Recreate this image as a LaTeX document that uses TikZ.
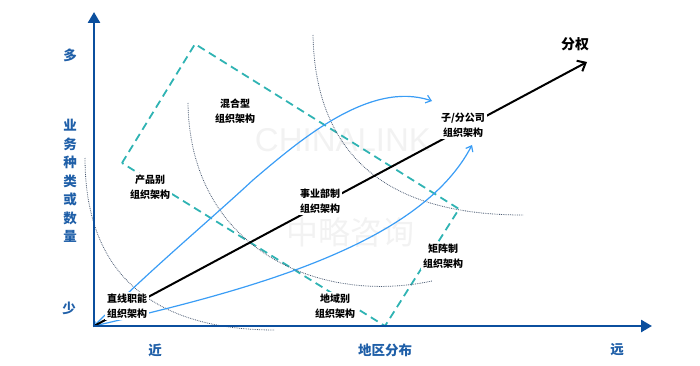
\documentclass[tikz,border=0pt]{standalone}
\usepackage{fontspec}
\setmainfont{Noto Sans CJK SC}
\newfontfamily\latinsans{Liberation Sans}
\usetikzlibrary{arrows.meta}
\definecolor{axisblue}{HTML}{0B4F9E}
\definecolor{txtblue}{HTML}{1F5FA8}
\definecolor{dashteal}{HTML}{2FB3B3}
\definecolor{curveblue}{HTML}{3A9DF5}
\definecolor{arcgray}{HTML}{4A5A72}
\begin{document}
\begin{tikzpicture}[x=1pt,y=-1pt,
  lbl/.style={font=\fontsize{10}{15}\selectfont\bfseries, align=center, fill=white, inner sep=2pt},
  axlbl/.style={font=\fontsize{13.5}{13.5}\selectfont\bfseries, text=txtblue, inner sep=0pt},
  axisline/.style={draw=axisblue, line width=2.6pt, -{Triangle[length=11pt,width=12pt]}},
  frame/.style={draw=dashteal, line width=1.8pt, dash pattern=on 8pt off 5pt},
  arcline/.style={draw=arcgray, line width=0.8pt, dash pattern=on 0.8pt off 1pt},
  flow/.style={draw=curveblue, line width=1.2pt, -{Straight Barb[length=5pt,width=8pt]}},
  mainline/.style={draw=black, line width=2pt, -{Straight Barb[length=7pt,width=12pt]}},
  wm/.style={text=black!5, inner sep=0pt}]
\useasboundingbox (0,0) rectangle (700,366);

% watermark
\node[wm, font=\latinsans\fontsize{33}{33}\selectfont] (wm1) at (343,140) {CHINALINK};
\node[wm, font=\fontsize{32}{32}\selectfont] (wm2) at (350,232) {中略咨询};

% coordinates
\coordinate (O) at (94,326);
\coordinate (Ob) at (94,327.3);
\coordinate (Ol) at (92.7,326);
\coordinate (Ytop) at (94,12);
\coordinate (Xend) at (652,326);
\coordinate (F1) at (122,163);
\coordinate (F2) at (195,44);
\coordinate (F3) at (459,209);
\coordinate (F4) at (385,326);
\coordinate (Tip) at (587,62);
\coordinate (T1) at (432,101);
\coordinate (T2) at (472,145);

% dashed frame
\draw[frame] (F1) -- (F2) -- (F3) -- (F4) -- cycle;

% dotted arcs
\draw[arcline] (85,158) .. controls (85,280) and (160,330) .. (275,330);
\draw[arcline] (188,103) .. controls (190,250) and (320,305) .. (432,281);
\draw[arcline] (313,35) .. controls (315,140) and (370,215) .. (523,215);

% curves
\draw[flow, {Straight Barb[length=3pt,width=5pt]}-{Straight Barb[length=5pt,width=8pt]}] (O) .. controls (150,270) and (210,220) .. (253,180) .. controls (300,140) and (370,80) .. (T1);
\draw[flow] (O) .. controls (250,290) and (420,245) .. (T2);
\draw[mainline] (O) -- (Tip);

% axes
\draw[axisline] (Ob) -- (Ytop);
\draw[axisline] (Ol) -- (Xend);

% labels
\node[lbl] (zx) at (127,306) {直线职能\\组织架构};
\node[lbl] (cp) at (150,187) {产品别\\组织架构};
\node[lbl] (hh) at (235,111) {混合型\\组织架构};
\node[lbl] (sy) at (320,201) {事业部制\\组织架构};
\node[lbl] (zg) at (463,125) {子/分公司\\组织架构};
\node[lbl] (jz) at (443,256) {矩阵制\\组织架构};
\node[lbl] (dy) at (335,306) {地域别\\组织架构};
\node[font=\fontsize{14}{14}\selectfont\bfseries, inner sep=0pt] (fq) at (575,44) {分权};

% axis labels
\node[axlbl] (duo) at (70,55) {多};
\node[axlbl, align=center, font=\fontsize{13.5}{18.5}\selectfont\bfseries] (yw) at (70,181) {业\\务\\种\\类\\或\\数\\量};
\node[axlbl] (shao) at (69,308) {少};
\node[axlbl] (jin) at (155,350) {近};
\node[axlbl] (dq) at (385,350) {地区分布};
\node[axlbl] (yuan) at (617,350) {远};
\end{tikzpicture}
\end{document}
